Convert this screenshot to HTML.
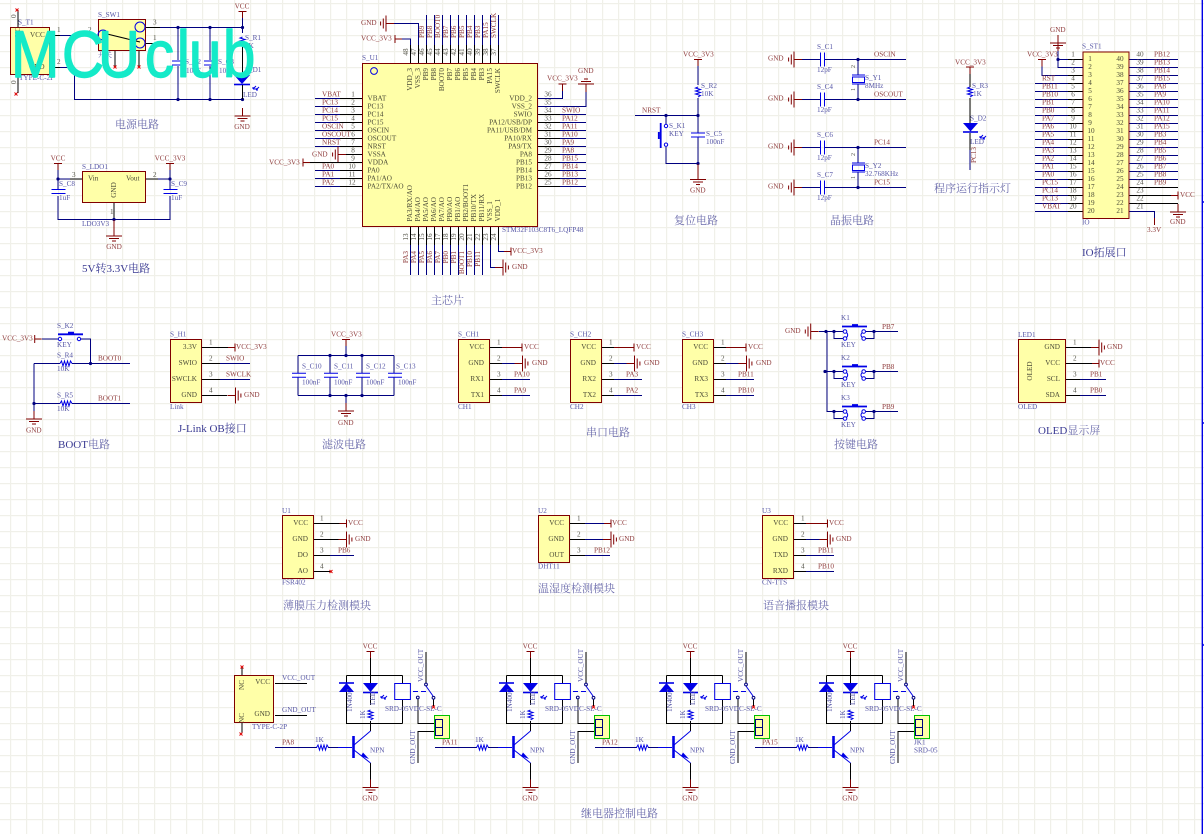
<!DOCTYPE html>
<html lang="zh">
<head>
<meta charset="utf-8">
<title>MCUclub schematic</title>
<style>
html,body{margin:0;padding:0;background:#fff;width:1204px;height:834px;overflow:hidden}
svg{display:block;filter:blur(.3px)}
text{font-family:"Liberation Serif","Noto Serif CJK SC",serif;font-size:7.2px;dominant-baseline:central;fill:#444}
.l text,text.l{fill:#8f3c3c}
.d text,text.d{fill:#5656a6}
.n text{fill:#4a4a36}
.p text{fill:#55554a}
.e text{text-anchor:end}
.m text{text-anchor:middle}
.t text{font-size:11px;fill:#6c6cac}
.t2 text{font-size:11px;fill:#3a3a92}
.W{fill:none;stroke:#000080;stroke-width:1}
.K{fill:none;stroke:#000;stroke-width:1}
.M{fill:none;stroke:#800000;stroke-width:1}
.B{fill:none;stroke:#0000e6;stroke-width:1}
.Box{fill:#ffffa8;stroke:#800000;stroke-width:1}
.wm{font-family:"Liberation Sans",sans-serif;font-size:66px;fill:#14eac8;stroke:#14eac8;stroke-width:1.4;stroke-linejoin:round;dominant-baseline:auto}
</style>
</head>
<body>
<svg xmlns="http://www.w3.org/2000/svg" width="1204" height="834" viewBox="0 0 1204 834">
<defs>
<pattern id="grid" width="16" height="16" patternUnits="userSpaceOnUse" x="10" y="3">
<rect width="16" height="1.2" fill="#f0f0e9"/><rect width="1.2" height="16" fill="#f0f0e9"/>
</pattern>
<g id="gd"><path class="M" d="M0 -8V0M-8 0H8M-5 2.5H5M-2 5H2"/></g>
<g id="gu"><path class="M" d="M0 8V0M-8 0H8M-5 -2.5H5M-2 -5H2"/></g>
<g id="gl"><path class="M" d="M8 0H0M0 -8V8M-2.7 -5V5M-5.4 -2V2"/></g>
<g id="gr"><path class="M" d="M-8 0H0M0 -8V8M2.7 -5V5M5.4 -2V2"/></g>
<g id="tv"><path class="M" d="M-4 0H4M0 0V7"/></g>
<g id="tl"><path class="M" d="M0 -4V4M0 0H7"/></g>
<g id="tr"><path class="M" d="M0 -4V4M0 0H-7"/></g>
<g id="cv"><path class="B" d="M-7 -2H7M-7 2H7"/></g>
<g id="ch"><path class="B" d="M-2 -7V7M2 -7V7"/></g>
<g id="rv"><path class="B" d="M0 -5L-2.5 -4L2.5 -2.5L-2.5 -1L2.5 .5L-2.5 2L2.5 3.5L0 5"/></g>
<g id="rh"><path class="B" d="M-6 0L-4.5 -2.5L-3 2.5L-1.5 -2.5L0 2.5L1.5 -2.5L3 2.5L4.5 -2.5L6 0"/></g>
<circle id="j" r="1.6" fill="#000080"/>
<g id="rx"><path d="M-1.5 -1.5L1.5 1.5M-1.5 1.5L1.5 -1.5" stroke="#e00000" stroke-width=".9" fill="none"/></g>
<g id="arr"><path class="B" d="M0 0L-3 3M-3 3H-1M-3 3V1M3 1L0 4M0 4H2M0 4V2"/></g>
<g id="key">
<path class="W" d="M834 0H843M834 0V7H843M874 0H866M874 0V7H866M874 0H898"/>
<circle cx="845" cy="0" r="1.8" fill="#fff" stroke="#0000e6"/>
<circle cx="845" cy="7" r="1.8" fill="#fff" stroke="#0000e6"/>
<circle cx="863.7" cy="0" r="1.8" fill="#fff" stroke="#0000e6"/>
<circle cx="863.7" cy="7" r="1.8" fill="#fff" stroke="#0000e6"/>
<path class="B" d="M846.5 1Q849 3.5 846.5 6M862.2 1Q859.7 3.5 862.2 6"/>
<path class="B" style="stroke-width:1.8" d="M842 -5H867M852 -6.5H858"/>
<use href="#j" x="834" y="0"/><use href="#j" x="874" y="0"/>
</g>
<g id="relay">
<use href="#tv" x="370.5" y="651.5"/>
<path class="K" d="M370.5 658V683M346.5 675.5H402.5M346.5 675.5V723.5H402.5M402.5 675.5V683.5M402.5 699.5V723.5M370.5 692V705M370.5 721V731M426 652V683M418 699V723.5H435M418 763V731.5H435M370.5 763V781M433.5 699V706"/>
<path d="M339 692L354 692L346.5 683Z" fill="#0000e6"/><path class="B" style="stroke-width:1.6" d="M339 683H354"/>
<path d="M363 683L378 683L370.5 692Z" fill="#0000e6"/><path class="B" style="stroke-width:1.6" d="M363 692.5H378"/>
<use href="#arr" x="384" y="695"/>
<use href="#rv" x="370.5" y="715"/>
<rect x="394.7" y="683.5" width="15.7" height="16" fill="none" stroke="#0000e6" stroke-width="1"/>
<path class="B" stroke-dasharray="5 3" d="M413 691.5H426"/>
<path class="B" d="M426 686L433 696"/>
<circle cx="426" cy="684.5" r="1.4" fill="#fff" stroke="#000080"/>
<circle cx="417.8" cy="697.5" r="1.4" fill="#fff" stroke="#000080"/>
<circle cx="433.5" cy="697.8" r="1.4" fill="#fff" stroke="#000080"/>
<use href="#rx" x="433.5" y="707"/>
<rect x="434.5" y="715.5" width="15" height="23" fill="#ffffa8" stroke="#00c000" stroke-width="1"/>
<rect x="435.5" y="719.5" width="7" height="16" fill="none" stroke="#000080"/><path class="W" d="M435.5 727.5H442.5"/>
<path class="W" d="M275 747.5H317M328 747.5H338"/>
<use href="#rh" x="322.5" y="747.5"/>
<path class="B" d="M338 747.5H352"/>
<path class="B" style="stroke-width:2.6" d="M353.5 736V758"/>
<path class="B" d="M354 745L370.5 731M354 750L370.5 763"/>
<path d="M363 753.5L369 760L361 757Z" fill="#0000e6" transform="translate(0 -1)"/>
<use href="#gd" x="370.5" y="787.5"/>
</g>
</defs>
<rect width="1204" height="834" fill="#fff"/>
<rect width="1204" height="834" fill="url(#grid)"/>
<path d="M1202.3 0V834M1202 202H1204M1202 423H1204M1202 645H1204" stroke="#0000e6" stroke-width="1.4" fill="none"/>

<!-- ===== power ===== -->
<rect class="Box" x="10.5" y="27.5" width="39" height="47"/>
<path class="K" d="M18 27V10M18 75V93M50 35.5H60M88 35.5H98M50 67.5H60M146 27.5H160M146 43.5H163M115 51V67M139 51V67"/>
<use href="#rx" x="17" y="10"/><use href="#rx" x="16" y="94"/><use href="#rx" x="163" y="43.5"/><use href="#rx" x="115" y="67"/><use href="#rx" x="139" y="67"/>
<path class="W" d="M60 35.5H88M60 67.5H74.5V99.5H242.5M160 27.5H242.5M178 27.5V60M178 66V99.5M210 27.5V60M210 66V99.5M242.5 27.5V33"/>
<rect class="Box" x="98.5" y="19.5" width="47" height="31"/>
<circle cx="103" cy="35" r="5" fill="none" stroke="#0000e6"/><circle cx="140" cy="27" r="5" fill="none" stroke="#0000e6"/><circle cx="140" cy="43" r="5" fill="none" stroke="#0000e6"/>
<path class="K" d="M103 33L140 42"/>
<use href="#j" x="178" y="27.5"/><use href="#j" x="210" y="27.5"/><use href="#j" x="242.5" y="27.5"/><use href="#j" x="178" y="99.5"/><use href="#j" x="210" y="99.5"/><use href="#j" x="242.5" y="99.5"/>
<path class="B" d="M172 61H183M172 65H183M204 61H215M204 65H215"/>
<use href="#tv" x="242.5" y="11.5"/>
<path class="W" d="M242.5 18V27"/>
<use href="#rv" x="242.5" y="42"/>
<path class="K" d="M242.5 47V75"/>
<path d="M234 75H250L242 84Z" fill="#0000e6"/><path class="B" style="stroke-width:1.6" d="M234 84.5H250"/>
<use href="#arr" x="256" y="86"/>
<path class="K" d="M242.5 85V99"/>
<use href="#gd" x="242.5" y="116"/>
<g class="d">
<text x="18" y="22.5">S_T1</text><text x="19" y="78">TYPE-C-2P</text><text x="98" y="15">S_SW1</text><text x="98" y="55" style="font-size:7px">开关</text>
<text x="185" y="62">S_C2</text><text x="186" y="71">10uF</text><text x="218" y="62">S_C3</text><text x="219" y="71">10uF</text>
<text x="245" y="38">S_R1</text><text x="245" y="46">1K</text><text x="245" y="70">S_D1</text><text x="243" y="95">LED</text>
</g>
<g class="n"><text x="30" y="35">VCC</text><text x="29" y="67">GND</text><text transform="translate(18 37)rotate(-90)">NC</text></g>
<g class="p"><text x="57" y="30">1</text><text x="57" y="62">2</text><text x="88" y="30">2</text><text x="153" y="22.5">3</text><text x="153" y="38">1</text><text transform="translate(14 18)rotate(-90)">0</text><text transform="translate(14 84)rotate(-90)">0</text></g>
<g class="l m"><text x="242" y="6.5">VCC</text><text x="242" y="127">GND</text></g>
<g class="t"><text x="115" y="125">电源电路</text></g>

<!-- ===== LDO ===== -->
<use href="#tv" x="58" y="163.5"/><use href="#tv" x="170" y="163.5"/>
<path class="W" d="M58 170V189M58 196V219.5H170V196M170 170V189M58 179H70M158 179H170"/>
<path class="K" d="M70 179H82M146 179H158M114 203V219"/>
<rect class="Box" x="82.5" y="171.5" width="63" height="31"/>
<use href="#cv" x="58.5" y="191.5"/><use href="#cv" x="170.5" y="191.5"/>
<use href="#j" x="58" y="179"/><use href="#j" x="170" y="179"/><use href="#j" x="114" y="219.5"/>
<use href="#gd" x="114" y="236"/>
<path class="M" d="M114 220V228"/>
<g class="l m"><text x="58" y="158.5">VCC</text><text x="170" y="158.5">VCC_3V3</text><text x="114" y="247">GND</text></g>
<g class="d"><text x="82" y="167">S_LDO1</text><text x="59" y="184">S_C8</text><text x="59" y="198">1uF</text><text x="171" y="184">S_C9</text><text x="171" y="198">1uF</text><text x="82" y="224">LDO3V3</text></g>
<g class="n"><text x="88" y="178.5">Vin</text><text x="126" y="178.5">Vout</text><text transform="translate(114 190)rotate(-90)" style="text-anchor:middle">GND</text></g>
<g class="p"><text x="72" y="175">3</text><text x="153" y="175">2</text><text x="110" y="212">1</text></g>
<g class="t2"><text x="82" y="269">5V转3.3V电路</text></g>

<!-- ===== main chip ===== -->
<path class="W" d="M315 98.5H340M315 106.5H340M315 114.5H340M315 122.5H340M315 130.5H340M315 138.5H340M315 146.5H340M315 170.5H340M315 178.5H340M315 186.5H340M560 114.5H586M560 122.5H586M560 130.5H586M560 138.5H586M560 146.5H586M560 154.5H586M560 162.5H586M560 170.5H586M560 178.5H586M560 186.5H586M538 98.5H562.5V91M538 106.5H586V92"/>
<path class="W" d="M426.5 15V45M434.5 15V45M442.5 15V45M450.5 15V45M458.5 15V45M466.5 15V45M474.5 15V45M482.5 15V45M490.5 15V45M498.5 15V45M410.5 45V39H395M418.5 45V23.5H394M410.5 245V275M418.5 245V275M426.5 245V275M434.5 245V275M442.5 245V275M450.5 245V275M458.5 245V275M466.5 245V275M474.5 245V275M482.5 245V275M490.5 245V267.5H495M498.5 245V251.5H504"/>
<path class="K" d="M340 98.5H362M340 106.5H362M340 114.5H362M340 122.5H362M340 130.5H362M340 138.5H362M340 146.5H362M340 154.5H362M340 162.5H362M340 170.5H362M340 178.5H362M340 186.5H362M538 114.5H560M538 122.5H560M538 130.5H560M538 138.5H560M538 146.5H560M538 154.5H560M538 162.5H560M538 170.5H560M538 178.5H560M538 186.5H560M410.5 45V63M418.5 45V63M426.5 45V63M434.5 45V63M442.5 45V63M450.5 45V63M458.5 45V63M466.5 45V63M474.5 45V63M482.5 45V63M490.5 45V63M498.5 45V63M410.5 227V245M418.5 227V245M426.5 227V245M434.5 227V245M442.5 227V245M450.5 227V245M458.5 227V245M466.5 227V245M474.5 227V245M482.5 227V245M490.5 227V245M498.5 227V245"/>
<rect class="Box" x="362.5" y="63.5" width="175" height="163"/>
<circle cx="374" cy="71" r="3.4" fill="none" stroke="#0000e6" stroke-width="1"/>
<use href="#gl" x="386" y="23.5"/><use href="#tl" x="395" y="39"/>
<use href="#gl" x="338" y="154.5"/><path class="M" d="M346 154.5H340"/>
<use href="#tl" x="303" y="162.5"/><path class="K" d="M310 162.5H340"/>
<use href="#tv" x="562.5" y="84"/><use href="#gu" x="586" y="84"/>
<use href="#gr" x="503" y="267.5"/><use href="#tr" x="511" y="251.5"/>
<g class="l">
<text x="361" y="23">GND</text><text x="361" y="38.5">VCC_3V3</text><text x="312" y="154.5">GND</text><text x="269" y="162.5">VCC_3V3</text>
<text x="547" y="78.5">VCC_3V3</text><text x="578" y="71">GND</text><text x="512" y="267">GND</text><text x="512" y="251">VCC_3V3</text>
<text x="322" y="94.5">VBAT</text><text x="322" y="102.5">PC13</text><text x="322" y="110.5">PC14</text><text x="322" y="118.5">PC15</text><text x="322" y="126.5">OSCIN</text><text x="322" y="134.5">OSCOUT</text><text x="322" y="142.5">NRST</text><text x="322" y="166.5">PA0</text><text x="322" y="174.5">PA1</text><text x="322" y="182.5">PA2</text>
<text x="562" y="110.5">SWIO</text><text x="562" y="118.5">PA12</text><text x="562" y="126.5">PA11</text><text x="562" y="134.5">PA10</text><text x="562" y="142.5">PA9</text><text x="562" y="150.5">PA8</text><text x="562" y="158.5">PB15</text><text x="562" y="166.5">PB14</text><text x="562" y="174.5">PB13</text><text x="562" y="182.5">PB12</text>
<text transform="translate(422 38)rotate(-90)">PB9</text><text transform="translate(430 38)rotate(-90)">PB8</text><text transform="translate(438 38)rotate(-90)">BOOT0</text><text transform="translate(446 38)rotate(-90)">PB7</text><text transform="translate(454 38)rotate(-90)">PB6</text><text transform="translate(462 38)rotate(-90)">PB5</text><text transform="translate(470 38)rotate(-90)">PB4</text><text transform="translate(478 38)rotate(-90)">PB3</text><text transform="translate(486 38)rotate(-90)">PA15</text><text transform="translate(494 38)rotate(-90)">SWCLK</text>
</g>
<g class="l e">
<text transform="translate(406 251)rotate(-90)">PA3</text><text transform="translate(414 251)rotate(-90)">PA4</text><text transform="translate(422 251)rotate(-90)">PA5</text><text transform="translate(430 251)rotate(-90)">PA6</text><text transform="translate(438 251)rotate(-90)">PA7</text><text transform="translate(446 251)rotate(-90)">PB0</text><text transform="translate(454 251)rotate(-90)">PB1</text><text transform="translate(462 251)rotate(-90)">BOOT1</text><text transform="translate(470 251)rotate(-90)">PB10</text><text transform="translate(478 251)rotate(-90)">PB11</text>
</g>
<g class="d"><text x="362" y="58">S_U1</text><text x="502" y="230">STM32F103C8T6_LQFP48</text></g>
<g class="n">
<text x="367.5" y="98.5">VBAT</text><text x="367.5" y="106.5">PC13</text><text x="367.5" y="114.5">PC14</text><text x="367.5" y="122.5">PC15</text><text x="367.5" y="130.5">OSCIN</text><text x="367.5" y="138.5">OSCOUT</text><text x="367.5" y="146.5">NRST</text><text x="367.5" y="154.5">VSSA</text><text x="367.5" y="162.5">VDDA</text><text x="367.5" y="170.5">PA0</text><text x="367.5" y="178.5">PA1/AO</text><text x="367.5" y="186.5">PA2/TX/AO</text>
<text transform="translate(410 221.5)rotate(-90)">PA3/RX/AO</text><text transform="translate(418 221.5)rotate(-90)">PA4/AO</text><text transform="translate(426 221.5)rotate(-90)">PA5/AO</text><text transform="translate(434 221.5)rotate(-90)">PA6/AO</text><text transform="translate(442 221.5)rotate(-90)">PA7/AO</text><text transform="translate(450 221.5)rotate(-90)">PB0/AO</text><text transform="translate(458 221.5)rotate(-90)">PB1/AO</text><text transform="translate(466 221.5)rotate(-90)">PB2/BOOT1</text><text transform="translate(474 221.5)rotate(-90)">PB10/TX</text><text transform="translate(482 221.5)rotate(-90)">PB11/RX</text><text transform="translate(490 221.5)rotate(-90)">VSS_1</text><text transform="translate(498 221.5)rotate(-90)">VDD_1</text>
</g>
<g class="n e">
<text x="532" y="98.5">VDD_2</text><text x="532" y="106.5">VSS_2</text><text x="532" y="114.5">SWIO</text><text x="532" y="122.5">PA12/USB/DP</text><text x="532" y="130.5">PA11/USB/DM</text><text x="532" y="138.5">PA10/RX</text><text x="532" y="146.5">PA9/TX</text><text x="532" y="154.5">PA8</text><text x="532" y="162.5">PB15</text><text x="532" y="170.5">PB14</text><text x="532" y="178.5">PB13</text><text x="532" y="186.5">PB12</text>
<text transform="translate(410 68)rotate(-90)">VDD_3</text><text transform="translate(418 68)rotate(-90)">VSS_3</text><text transform="translate(426 68)rotate(-90)">PB9</text><text transform="translate(434 68)rotate(-90)">PB8</text><text transform="translate(442 68)rotate(-90)">BOOT0</text><text transform="translate(450 68)rotate(-90)">PB7</text><text transform="translate(458 68)rotate(-90)">PB6</text><text transform="translate(466 68)rotate(-90)">PB5</text><text transform="translate(474 68)rotate(-90)">PB4</text><text transform="translate(482 68)rotate(-90)">PB3</text><text transform="translate(490 68)rotate(-90)">PA15</text><text transform="translate(498 68)rotate(-90)">SWCLK</text>
</g>
<g class="p m">
<text x="353" y="94.5">1</text><text x="353" y="102.5">2</text><text x="353" y="110.5">3</text><text x="353" y="118.5">4</text><text x="353" y="126.5">5</text><text x="353" y="134.5">6</text><text x="353" y="142.5">7</text><text x="353" y="150.5">8</text><text x="353" y="158.5">9</text><text x="352" y="166.5">10</text><text x="352" y="174.5">11</text><text x="352" y="182.5">12</text>
<text x="548" y="94.5">36</text><text x="548" y="102.5">35</text><text x="548" y="110.5">34</text><text x="548" y="118.5">33</text><text x="548" y="126.5">32</text><text x="548" y="134.5">31</text><text x="548" y="142.5">30</text><text x="548" y="150.5">29</text><text x="548" y="158.5">28</text><text x="548" y="166.5">27</text><text x="548" y="174.5">26</text><text x="548" y="182.5">25</text>
<text transform="translate(406 52)rotate(-90)">48</text><text transform="translate(414 52)rotate(-90)">47</text><text transform="translate(422 52)rotate(-90)">46</text><text transform="translate(430 52)rotate(-90)">45</text><text transform="translate(438 52)rotate(-90)">44</text><text transform="translate(446 52)rotate(-90)">43</text><text transform="translate(454 52)rotate(-90)">42</text><text transform="translate(462 52)rotate(-90)">41</text><text transform="translate(470 52)rotate(-90)">40</text><text transform="translate(478 52)rotate(-90)">39</text><text transform="translate(486 52)rotate(-90)">38</text><text transform="translate(494 52)rotate(-90)">37</text>
<text transform="translate(406 237)rotate(-90)">13</text><text transform="translate(414 237)rotate(-90)">14</text><text transform="translate(422 237)rotate(-90)">15</text><text transform="translate(430 237)rotate(-90)">16</text><text transform="translate(438 237)rotate(-90)">17</text><text transform="translate(446 237)rotate(-90)">18</text><text transform="translate(454 237)rotate(-90)">19</text><text transform="translate(462 237)rotate(-90)">20</text><text transform="translate(470 237)rotate(-90)">21</text><text transform="translate(478 237)rotate(-90)">22</text><text transform="translate(486 237)rotate(-90)">23</text><text transform="translate(494 237)rotate(-90)">24</text>
</g>
<g class="t"><text x="431" y="301">主芯片</text></g>

<!-- ===== reset ===== -->
<use href="#tv" x="698" y="59.5"/>
<path class="W" d="M698 66V85M698 98V133M698 137V163.5M635 115.5H698M666 115.5V124M666 147V163.5H698"/>
<use href="#rv" x="698" y="92"/>
<use href="#j" x="666" y="115.5"/><use href="#j" x="698" y="115.5"/><use href="#j" x="698" y="163.5"/>
<circle cx="666" cy="126" r="1.7" fill="#fff" stroke="#0000e6"/><circle cx="666" cy="144.7" r="1.7" fill="#fff" stroke="#0000e6"/>
<path class="B" style="stroke-width:1.8" d="M660.7 123V148M658.8 132V139"/>
<use href="#cv" x="698" y="135"/>
<use href="#gd" x="698" y="179.5"/><path class="M" d="M698 164V172"/>
<g class="l"><text x="683" y="54.5">VCC_3V3</text><text x="642" y="110.5">NRST</text><text x="690" y="190.5">GND</text></g>
<g class="d"><text x="701" y="86">S_R2</text><text x="701" y="94">10K</text><text x="669" y="126">S_K1</text><text x="669" y="134">KEY</text><text x="706" y="134">S_C5</text><text x="706" y="142">100nF</text></g>
<g class="t"><text x="674" y="221">复位电路</text></g>

<!-- ===== crystals ===== -->
<use href="#gl" x="794" y="59.5"/><use href="#gl" x="794" y="99.5"/><use href="#gl" x="794" y="147.5"/><use href="#gl" x="794" y="187.5"/>
<path class="W" d="M802 59.5H820M802 99.5H820M802 147.5H820M802 187.5H820M824 59.5H906M824 99.5H906M824 147.5H906M824 187.5H906M858 59.5V75M858 84V99.5M858 147.5V163M858 172V187.5"/>
<use href="#ch" x="822.5" y="59.5"/><use href="#ch" x="822.5" y="99.5"/><use href="#ch" x="822.5" y="147.5"/><use href="#ch" x="822.5" y="187.5"/>
<use href="#j" x="858" y="59.5"/><use href="#j" x="858" y="99.5"/><use href="#j" x="858" y="147.5"/><use href="#j" x="858" y="187.5"/>
<rect x="852.5" y="77" width="12" height="5.5" fill="none" stroke="#0000e6"/><path class="B" d="M852 75H865M852 84H865"/>
<rect x="852.5" y="165" width="12" height="5.5" fill="none" stroke="#0000e6"/><path class="B" d="M852 163H865M852 172H865"/>
<g class="l"><text x="768" y="58.5">GND</text><text x="768" y="98.5">GND</text><text x="768" y="146.5">GND</text><text x="768" y="186.5">GND</text><text x="874" y="54.5">OSCIN</text><text x="874" y="94.5">OSCOUT</text><text x="874" y="142.5">PC14</text><text x="874" y="182.5">PC15</text></g>
<g class="d"><text x="817" y="47">S_C1</text><text x="817" y="70">12pF</text><text x="817" y="87">S_C4</text><text x="817" y="110">12pF</text><text x="817" y="135">S_C6</text><text x="817" y="158">12pF</text><text x="817" y="175">S_C7</text><text x="817" y="198">12pF</text><text x="865" y="78">S_Y1</text><text x="865" y="86">8MHz</text><text x="865" y="166">S_Y2</text><text x="865" y="174">32.768KHz</text></g>
<g class="p"><text transform="translate(854 68)rotate(-90)" style="font-size:6px">2</text><text transform="translate(854 91)rotate(-90)" style="font-size:6px">1</text><text transform="translate(854 156)rotate(-90)" style="font-size:6px">2</text><text transform="translate(854 179)rotate(-90)" style="font-size:6px">1</text></g>
<g class="t"><text x="830" y="221">晶振电路</text></g>

<!-- ===== run LED ===== -->
<use href="#tv" x="970" y="67"/>
<path class="K" d="M970 74V87M970 98V123M970 133V150"/>
<use href="#rv" x="970" y="92"/>
<path d="M963 123H978L970.5 131.5Z" fill="#0000e6"/><path class="B" style="stroke-width:1.6" d="M963 132H978"/>
<use href="#arr" x="983" y="135"/>
<path class="W" d="M970 150V170"/>
<g class="l"><text x="955" y="62.5">VCC_3V3</text><text transform="translate(974 163)rotate(-90)">PC13</text></g>
<g class="d"><text x="972" y="86">S_R3</text><text x="973" y="94">1K</text><text x="970" y="118.5">S_D2</text><text x="970" y="142">LED</text></g>
<g class="t"><text x="934" y="189">程序运行指示灯</text></g>

<!-- ===== IO ===== -->
<path class="W" d="M1058 51V59.5H1068M1058 59.5V67.5H1083M1042 66V75.5H1068M1035 83.5H1068M1035 91.5H1068M1035 99.5H1068M1035 107.5H1068M1035 115.5H1068M1035 123.5H1068M1035 131.5H1068M1035 139.5H1068M1035 147.5H1068M1035 155.5H1068M1035 163.5H1068M1035 171.5H1068M1035 179.5H1068M1035 187.5H1068M1035 195.5H1068M1035 203.5H1068M1035 211.5H1068"/>
<path class="K" d="M1068 59.5H1083M1068 75.5H1083M1068 83.5H1083M1068 91.5H1083M1068 99.5H1083M1068 107.5H1083M1068 115.5H1083M1068 123.5H1083M1068 131.5H1083M1068 139.5H1083M1068 147.5H1083M1068 155.5H1083M1068 163.5H1083M1068 171.5H1083M1068 179.5H1083M1068 187.5H1083M1068 195.5H1083M1068 203.5H1083M1068 211.5H1083"/>
<path class="W" d="M1129 59.5H1178M1129 67.5H1178M1129 75.5H1178M1129 83.5H1178M1129 91.5H1178M1129 99.5H1178M1129 107.5H1178M1129 115.5H1178M1129 123.5H1178M1129 131.5H1178M1129 139.5H1178M1129 147.5H1178M1129 155.5H1178M1129 163.5H1178M1129 171.5H1178M1129 179.5H1178M1129 211.5H1154.5V218"/>
<path class="K" d="M1129 187.5H1178M1129 195.5H1172M1129 203.5H1178"/>
<path class="M" d="M1154.5 218V225"/>
<rect class="Box" x="1083" y="52" width="46" height="166.5"/>
<use href="#gd" x="1058" y="43"/><path class="M" d="M1058 43V51"/>
<use href="#j" x="1058" y="59.5"/>
<use href="#tv" x="1042" y="59.5"/>
<use href="#tr" x="1178" y="195.5"/>
<use href="#gd" x="1178" y="212"/>
<g class="l">
<text x="1050" y="30">GND</text><text x="1027" y="54.5">VCC_3V3</text><text x="1180" y="195">VCC</text><text x="1170" y="222">GND</text><text x="1147" y="230">3.3V</text>
<text x="1042" y="78.5">RST</text><text x="1042" y="86.5">PB11</text><text x="1042" y="94.5">PB10</text><text x="1042" y="102.5">PB1</text><text x="1042" y="110.5">PB0</text><text x="1042" y="118.5">PA7</text><text x="1042" y="126.5">PA6</text><text x="1042" y="134.5">PA5</text><text x="1042" y="142.5">PA4</text><text x="1042" y="150.5">PA3</text><text x="1042" y="158.5">PA2</text><text x="1042" y="166.5">PA1</text><text x="1042" y="174.5">PA0</text><text x="1042" y="182.5">PC15</text><text x="1042" y="190.5">PC14</text><text x="1042" y="198.5">PC13</text><text x="1042" y="206.5">VBAT</text>
<text x="1154" y="54.5">PB12</text><text x="1154" y="62.5">PB13</text><text x="1154" y="70.5">PB14</text><text x="1154" y="78.5">PB15</text><text x="1154" y="86.5">PA8</text><text x="1154" y="94.5">PA9</text><text x="1154" y="102.5">PA10</text><text x="1154" y="110.5">PA11</text><text x="1154" y="118.5">PA12</text><text x="1154" y="126.5">PA15</text><text x="1154" y="134.5">PB3</text><text x="1154" y="142.5">PB4</text><text x="1154" y="150.5">PB5</text><text x="1154" y="158.5">PB6</text><text x="1154" y="166.5">PB7</text><text x="1154" y="174.5">PB8</text><text x="1154" y="182.5">PB9</text>
</g>
<g class="d"><text x="1082" y="46.5">S_ST1</text><text x="1082" y="222.5">IO</text></g>
<g class="p m">
<text x="1073" y="54.5">1</text><text x="1073" y="62.5">2</text><text x="1073" y="70.5">3</text><text x="1073" y="78.5">4</text><text x="1073" y="86.5">5</text><text x="1073" y="94.5">6</text><text x="1073" y="102.5">7</text><text x="1073" y="110.5">8</text><text x="1073" y="118.5">9</text><text x="1073" y="126.5">10</text><text x="1073" y="134.5">11</text><text x="1073" y="142.5">12</text><text x="1073" y="150.5">13</text><text x="1073" y="158.5">14</text><text x="1073" y="166.5">15</text><text x="1073" y="174.5">16</text><text x="1073" y="182.5">17</text><text x="1073" y="190.5">18</text><text x="1073" y="198.5">19</text><text x="1073" y="206.5">20</text>
<text x="1140" y="54.5">40</text><text x="1140" y="62.5">39</text><text x="1140" y="70.5">38</text><text x="1140" y="78.5">37</text><text x="1140" y="86.5">36</text><text x="1140" y="94.5">35</text><text x="1140" y="102.5">34</text><text x="1140" y="110.5">33</text><text x="1140" y="118.5">32</text><text x="1140" y="126.5">31</text><text x="1140" y="134.5">30</text><text x="1140" y="142.5">29</text><text x="1140" y="150.5">28</text><text x="1140" y="158.5">27</text><text x="1140" y="166.5">26</text><text x="1140" y="174.5">25</text><text x="1140" y="182.5">24</text><text x="1140" y="190.5">23</text><text x="1140" y="198.5">22</text><text x="1140" y="206.5">21</text>
</g>
<g class="n m">
<text x="1090" y="59">1</text><text x="1090" y="67">2</text><text x="1090" y="75">3</text><text x="1090" y="83">4</text><text x="1090" y="91">5</text><text x="1090" y="99">6</text><text x="1090" y="107">7</text><text x="1090" y="115">8</text><text x="1090" y="123">9</text><text x="1091" y="131">10</text><text x="1091" y="139">11</text><text x="1091" y="147">12</text><text x="1091" y="155">13</text><text x="1091" y="163">14</text><text x="1091" y="171">15</text><text x="1091" y="179">16</text><text x="1091" y="187">17</text><text x="1091" y="195">18</text><text x="1091" y="203">19</text><text x="1091" y="211">20</text>
<text x="1120" y="59">40</text><text x="1120" y="67">39</text><text x="1120" y="75">38</text><text x="1120" y="83">37</text><text x="1120" y="91">36</text><text x="1120" y="99">35</text><text x="1120" y="107">34</text><text x="1120" y="115">33</text><text x="1120" y="123">32</text><text x="1120" y="131">31</text><text x="1120" y="139">30</text><text x="1120" y="147">29</text><text x="1120" y="155">28</text><text x="1120" y="163">27</text><text x="1120" y="171">26</text><text x="1120" y="179">25</text><text x="1120" y="187">24</text><text x="1120" y="195">23</text><text x="1120" y="203">22</text><text x="1120" y="211">21</text>
</g>
<g class="t2"><text x="1082" y="253">IO拓展口</text></g>

<!-- ===== BOOT ===== -->
<use href="#tl" x="34.7" y="339"/>
<path class="W" d="M42 339H58M81 339H90.5V363.5M34 363.5H60M72 363.5H130M33 403.5H60M72 403.5H130M34 363.5V411"/>
<circle cx="60" cy="339" r="1.7" fill="#fff" stroke="#0000e6"/><circle cx="79" cy="339" r="1.7" fill="#fff" stroke="#0000e6"/>
<path class="B" style="stroke-width:1.8" d="M58 334.3H83M68 332.6H74"/>
<use href="#rh" x="66" y="363.5"/><use href="#rh" x="66" y="403.5"/>
<use href="#j" x="90.5" y="363.5"/><use href="#j" x="34" y="403.5"/>
<use href="#gd" x="34" y="419"/>
<g class="l"><text x="2" y="338.7">VCC_3V3</text><text x="98" y="358.5">BOOT0</text><text x="98" y="398.5">BOOT1</text><text x="26" y="430.5">GND</text></g>
<g class="d"><text x="57" y="326">S_K2</text><text x="57" y="345">KEY</text><text x="57" y="355.5">S_R4</text><text x="57" y="369">10K</text><text x="57" y="395.5">S_R5</text><text x="57" y="409">10K</text></g>
<g class="t2"><text x="58" y="445">BOOT<tspan fill="#6c6cac">电路</tspan></text></g>

<!-- ===== J-Link ===== -->
<path class="K" d="M202 347.5H228M202 363.5H220M202 379.5H220M202 395.5H227"/>
<path class="W" d="M220 363.5H250M220 379.5H250"/>
<rect class="Box" x="170.5" y="339.5" width="31" height="63"/>
<use href="#tr" x="235" y="347.5"/><use href="#gr" x="235.5" y="395.5"/>
<g class="l"><text x="236" y="347">VCC_3V3</text><text x="226" y="358.5">SWIO</text><text x="226" y="374.5">SWCLK</text><text x="244" y="395">GND</text></g>
<g class="d"><text x="170" y="334.5">S_H1</text><text x="170" y="407">Link</text></g>
<g class="n e"><text x="197" y="347">3.3V</text><text x="197" y="363">SWIO</text><text x="197" y="379">SWCLK</text><text x="197" y="395">GND</text></g>
<g class="p"><text x="209" y="342.5">1</text><text x="209" y="358.5">2</text><text x="209" y="374.5">3</text><text x="209" y="390.5">4</text></g>
<g class="t2"><text x="178" y="429">J-Link OB接口</text></g>

<!-- ===== filter ===== -->
<use href="#tv" x="346" y="339.5"/>
<path class="W" d="M298 355.5H394M298 395.5H394M298 355.5V373M298 377.5V395.5M330 355.5V373M330 377.5V395.5M362 355.5V373M362 377.5V395.5M394 355.5V373M394 377.5V395.5M346 346V355.5M346 395.5V403"/>
<use href="#cv" x="299" y="375.3"/><use href="#cv" x="331" y="375.3"/><use href="#cv" x="363" y="375.3"/><use href="#cv" x="395" y="375.3"/>
<use href="#j" x="330" y="355.5"/><use href="#j" x="346" y="355.5"/><use href="#j" x="362" y="355.5"/><use href="#j" x="330" y="395.5"/><use href="#j" x="346" y="395.5"/><use href="#j" x="362" y="395.5"/>
<use href="#gd" x="346" y="411"/>
<g class="l"><text x="331" y="334.7">VCC_3V3</text><text x="338" y="423">GND</text></g>
<g class="d"><text x="302" y="366.5">S_C10</text><text x="334" y="366.5">S_C11</text><text x="366" y="366.5">S_C12</text><text x="396" y="366.5">S_C13</text><text x="302" y="382.5">100nF</text><text x="334" y="382.5">100nF</text><text x="366" y="382.5">100nF</text><text x="398" y="382.5">100nF</text></g>
<g class="t"><text x="322" y="445">滤波电路</text></g>

<!-- ===== serial ===== -->
<path class="K" d="M489 347.5H502M489 363.5H502M489 379.5H502M489 395.5H502M601 347.5H614M601 363.5H614M601 379.5H614M601 395.5H614M713 347.5H726M713 363.5H726M713 379.5H726M713 395.5H726"/>
<path class="W" d="M502 379.5H530M502 395.5H530M614 379.5H642M614 395.5H642M726 379.5H754M726 395.5H754M502 363.5H516M614 363.5H628M726 363.5H740"/>
<path class="M" d="M502 347.5H522M614 347.5H634M726 347.5H746"/>
<rect class="Box" x="458.5" y="339.5" width="31" height="63"/><rect class="Box" x="570.5" y="339.5" width="31" height="63"/><rect class="Box" x="682.5" y="339.5" width="31" height="63"/>
<use href="#tr" x="522" y="347.5"/><use href="#tr" x="634" y="347.5"/><use href="#tr" x="746" y="347.5"/>
<use href="#gr" x="522.5" y="363.5"/><use href="#gr" x="634.5" y="363.5"/><use href="#gr" x="746.5" y="363.5"/>
<g class="l"><text x="524" y="347">VCC</text><text x="532" y="363">GND</text><text x="514" y="374.5">PA10</text><text x="514" y="390.5">PA9</text><text x="636" y="347">VCC</text><text x="644" y="363">GND</text><text x="626" y="374.5">PA3</text><text x="626" y="390.5">PA2</text><text x="748" y="347">VCC</text><text x="756" y="363">GND</text><text x="738" y="374.5">PB11</text><text x="738" y="390.5">PB10</text></g>
<g class="d"><text x="458" y="334.5">S_CH1</text><text x="458" y="407">CH1</text><text x="570" y="334.5">S_CH2</text><text x="570" y="407">CH2</text><text x="682" y="334.5">S_CH3</text><text x="682" y="407">CH3</text></g>
<g class="n e"><text x="484" y="347">VCC</text><text x="484" y="363">GND</text><text x="484" y="379">RX1</text><text x="484" y="395">TX1</text><text x="596" y="347">VCC</text><text x="596" y="363">GND</text><text x="596" y="379">RX2</text><text x="596" y="395">TX2</text><text x="708" y="347">VCC</text><text x="708" y="363">GND</text><text x="708" y="379">RX3</text><text x="708" y="395">TX3</text></g>
<g class="p"><text x="497" y="342.5">1</text><text x="497" y="358.5">2</text><text x="497" y="374.5">3</text><text x="497" y="390.5">4</text><text x="609" y="342.5">1</text><text x="609" y="358.5">2</text><text x="609" y="374.5">3</text><text x="609" y="390.5">4</text><text x="721" y="342.5">1</text><text x="721" y="358.5">2</text><text x="721" y="374.5">3</text><text x="721" y="390.5">4</text></g>
<g class="t"><text x="586" y="433">串口电路</text></g>

<!-- ===== keys ===== -->
<use href="#gl" x="810.7" y="331.5"/>
<path class="W" d="M819 331.5H834M827 331.5V411.5H834M825 371.5H834"/>
<use href="#j" x="826" y="331.5"/><use href="#j" x="825" y="371.5"/>
<use href="#key" x="0" y="331.5"/><use href="#key" x="0" y="371.5"/><use href="#key" x="0" y="411.5"/>
<g class="l"><text x="785" y="331">GND</text><text x="882" y="327">PB7</text><text x="882" y="367">PB8</text><text x="882" y="407">PB9</text></g>
<g class="d"><text x="841" y="318">K1</text><text x="841" y="345">KEY</text><text x="841" y="358">K2</text><text x="841" y="385">KEY</text><text x="841" y="398">K3</text><text x="841" y="425">KEY</text></g>
<g class="t"><text x="834" y="445">按键电路</text></g>

<!-- ===== OLED ===== -->
<path class="K" d="M1066 347.5H1092M1066 363.5H1092M1066 379.5H1080M1066 395.5H1080"/>
<path class="W" d="M1080 379.5H1106M1080 395.5H1106"/>
<rect class="Box" x="1018.5" y="339.5" width="47" height="63"/>
<use href="#gr" x="1099" y="347.5"/><use href="#tr" x="1099" y="363.5"/>
<g class="l"><text x="1107" y="347">GND</text><text x="1100" y="363">VCC</text><text x="1090" y="374.5">PB1</text><text x="1090" y="390.5">PB0</text></g>
<g class="d"><text x="1018" y="335">LED1</text><text x="1018" y="407">OLED</text></g>
<g class="n e"><text x="1060" y="347">GND</text><text x="1060" y="363">VCC</text><text x="1060" y="379">SCL</text><text x="1060" y="395">SDA</text></g>
<g class="n m"><text transform="translate(1030 371)rotate(-90)">OLED</text></g>
<g class="p"><text x="1073" y="342.5">1</text><text x="1073" y="358.5">2</text><text x="1073" y="374.5">3</text><text x="1073" y="390.5">4</text></g>
<g class="t2"><text x="1038" y="431">OLED<tspan fill="#6c6cac">显示屏</tspan></text></g>

<!-- ===== modules ===== -->
<path class="K" d="M313 523.5H340M313 539.5H339M313 555.5H330M313 571.5H331M569 523.5H585M569 539.5H585M569 555.5H585M793 523.5H806M793 539.5H806M793 555.5H806M793 571.5H806"/>
<path class="W" d="M330 555.5H354M585 523.5H604M585 539.5H603M585 555.5H610M806 539.5H820M806 555.5H834M806 571.5H834"/>
<path class="M" d="M806 523.5H822"/>
<rect class="Box" x="282.5" y="515.5" width="31" height="63"/>
<rect class="Box" x="538.5" y="515.5" width="31" height="47"/>
<rect class="Box" x="762.5" y="515.5" width="31" height="63"/>
<use href="#tr" x="346.5" y="523.5"/><use href="#gr" x="346.5" y="539.5"/><use href="#rx" x="331" y="571.5"/>
<use href="#tr" x="611" y="523.5"/><use href="#gr" x="611" y="539.5"/>
<use href="#tr" x="827.5" y="523.5"/><use href="#gr" x="827.5" y="539.5"/>
<g class="l"><text x="348" y="523">VCC</text><text x="355" y="539">GND</text><text x="338" y="550.5">PB6</text><text x="612" y="523">VCC</text><text x="619" y="539">GND</text><text x="594" y="550.5">PB12</text><text x="829" y="523">VCC</text><text x="836" y="539">GND</text><text x="818" y="550.5">PB11</text><text x="818" y="566.5">PB10</text></g>
<g class="d"><text x="282" y="511">U1</text><text x="282" y="582.5">FSR402</text><text x="538" y="511">U2</text><text x="538" y="566.5">DHT11</text><text x="762" y="511">U3</text><text x="762" y="582.5">CN-TTS</text></g>
<g class="n e"><text x="308" y="523">VCC</text><text x="308" y="539">GND</text><text x="308" y="555">DO</text><text x="308" y="571">AO</text><text x="564" y="523">VCC</text><text x="564" y="539">GND</text><text x="564" y="555">OUT</text><text x="788" y="523">VCC</text><text x="788" y="539">GND</text><text x="788" y="555">TXD</text><text x="788" y="571">RXD</text></g>
<g class="p"><text x="320" y="518.5">1</text><text x="320" y="534.5">2</text><text x="320" y="550.5">3</text><text x="320" y="566.5">4</text><text x="577" y="518.5">1</text><text x="577" y="534.5">2</text><text x="577" y="550.5">3</text><text x="801" y="518.5">1</text><text x="801" y="534.5">2</text><text x="801" y="550.5">3</text><text x="801" y="566.5">4</text></g>
<g class="t"><text x="283" y="606">薄膜压力检测模块</text><text x="538" y="589">温湿度检测模块</text><text x="763" y="606">语音播报模块</text></g>

<!-- ===== relay board ===== -->
<rect class="Box" x="234.5" y="675.5" width="39" height="47"/>
<path class="K" d="M242 675V667M242 723V733M275 683.5H307M275 715.5H307"/>
<use href="#rx" x="242" y="667"/><use href="#rx" x="241" y="734"/>
<g class="n"><text transform="translate(242 690)rotate(-90)">NC</text><text transform="translate(242 723)rotate(-90)">NC</text></g>
<g class="n e"><text x="270" y="682">VCC</text><text x="270" y="714">GND</text></g>
<g class="d"><text x="252" y="727">TYPE-C-2P</text><text x="282" y="678">VCC_OUT</text><text x="282" y="710">GND_OUT</text></g>

<use href="#relay"/><use href="#relay" x="160"/><use href="#relay" x="320"/><use href="#relay" x="480"/>

<g id="u1">
<g class="l m"><text x="370" y="646.5">VCC</text><text x="370" y="798.5">GND</text></g>
<g class="l"><text x="282" y="742.5">PA8</text></g>
<g class="d"><text x="315" y="740">1K</text><text x="370" y="750.5">NPN</text><text x="385" y="709">SRD-05VDC-SL-C</text>
<text transform="translate(350 712)rotate(-90)">1N4007</text><text transform="translate(373 705)rotate(-90)">LED</text><text transform="translate(363 719)rotate(-90)">1K</text><text transform="translate(421 682)rotate(-90)">VCC_OUT</text><text transform="translate(413 764)rotate(-90)">GND_OUT</text></g>
</g>
<g transform="translate(160 0)">
<g class="l m"><text x="370" y="646.5">VCC</text><text x="370" y="798.5">GND</text></g>
<g class="l"><text x="282" y="742.5">PA11</text></g>
<g class="d"><text x="315" y="740">1K</text><text x="370" y="750.5">NPN</text><text x="385" y="709">SRD-05VDC-SL-C</text>
<text transform="translate(350 712)rotate(-90)">1N4007</text><text transform="translate(373 705)rotate(-90)">LED</text><text transform="translate(363 719)rotate(-90)">1K</text><text transform="translate(421 682)rotate(-90)">VCC_OUT</text><text transform="translate(413 764)rotate(-90)">GND_OUT</text></g>
</g>
<g transform="translate(320 0)">
<g class="l m"><text x="370" y="646.5">VCC</text><text x="370" y="798.5">GND</text></g>
<g class="l"><text x="282" y="742.5">PA12</text></g>
<g class="d"><text x="315" y="740">1K</text><text x="370" y="750.5">NPN</text><text x="385" y="709">SRD-05VDC-SL-C</text>
<text transform="translate(350 712)rotate(-90)">1N4007</text><text transform="translate(373 705)rotate(-90)">LED</text><text transform="translate(363 719)rotate(-90)">1K</text><text transform="translate(421 682)rotate(-90)">VCC_OUT</text><text transform="translate(413 764)rotate(-90)">GND_OUT</text></g>
</g>
<g transform="translate(480 0)">
<g class="l m"><text x="370" y="646.5">VCC</text><text x="370" y="798.5">GND</text></g>
<g class="l"><text x="282" y="742.5">PA15</text></g>
<g class="d"><text x="315" y="740">1K</text><text x="370" y="750.5">NPN</text><text x="385" y="709">SRD-05VDC-SL-C</text>
<text transform="translate(350 712)rotate(-90)">1N4007</text><text transform="translate(373 705)rotate(-90)">LED</text><text transform="translate(363 719)rotate(-90)">1K</text><text transform="translate(421 682)rotate(-90)">VCC_OUT</text><text transform="translate(413 764)rotate(-90)">GND_OUT</text></g>
</g>
<g class="d"><text x="914" y="742.5">JK1</text><text x="914" y="750.7">SRD-05</text></g>
<g class="t"><text x="581" y="814">继电器控制电路</text></g>

<!-- watermark -->
<text class="wm" transform="translate(0 77) scale(.88 1)" x="12.5 70.5 111.4 164.8 201 214.8 253.4" y="0">MCUclub</text>
</svg>
</body>
</html>
